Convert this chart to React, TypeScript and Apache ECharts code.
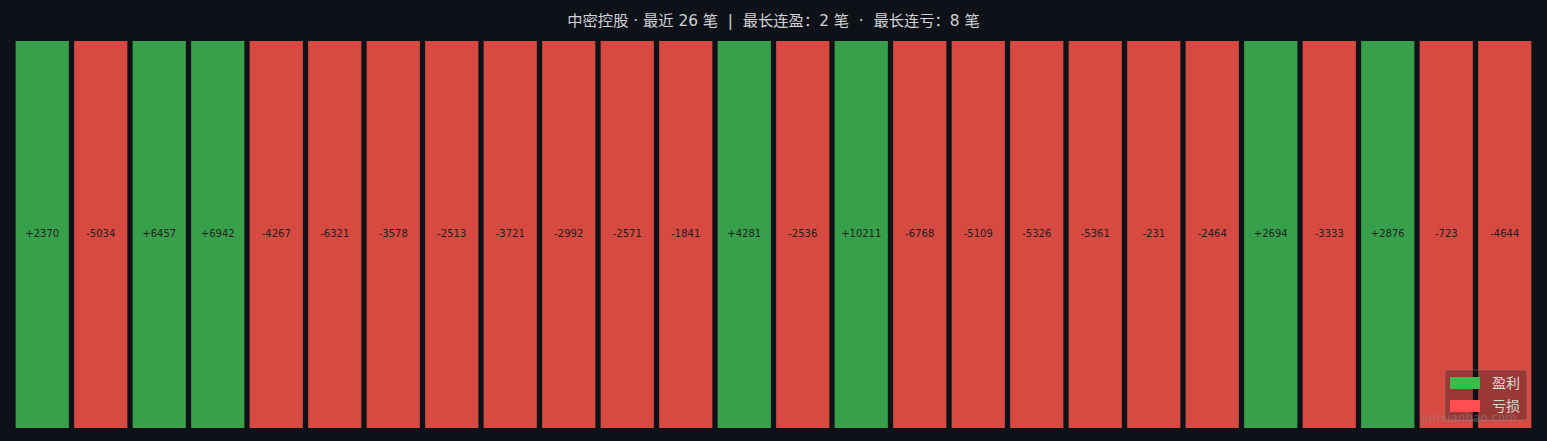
import { useEffect, useRef } from 'react'
import * as echarts from 'echarts'

const trades = [
  '1', '2', '3', '4', '5', '6', '7', '8', '9', '10', '11', '12', '13',
  '14', '15', '16', '17', '18', '19', '20', '21', '22', '23', '24', '25', '26',
]
const pnl = [
  2370, -5034, 6457, 6942, -4267, -6321, -3578, -2513, -3721, -2992, -2571, -1841, 4281,
  -2536, 10211, -6768, -5109, -5326, -5361, -231, -2464, 2694, -3333, 2876, -723, -4644,
]
const titleText =
  '中密控股 · 最近 26 笔\u00a0\u00a0|\u00a0\u00a0最长连盈：2 笔\u00a0\u00a0·\u00a0\u00a0最长连亏：8 笔'

const BG = '#0e1117'
const FONT = '"DejaVu Sans", "Noto Sans CJK SC", sans-serif'

export default function App() {
  const chartRef = useRef<HTMLDivElement>(null)

  useEffect(() => {
    document.body.style.margin = '0'
    document.body.style.background = BG
    if (!chartRef.current) return
    const chart = echarts.init(chartRef.current, null, { renderer: 'svg' })

    const label = {
      show: true,
      position: 'inside',
      offset: [0, -1],
      color: '#1e1e1e',
      fontSize: 10,
      fontFamily: FONT,
      formatter: (p: any) => {
        const v = pnl[p.dataIndex]
        return v > 0 ? `+${v}` : `${v}`
      },
    }

    chart.setOption({
      animation: false,
      backgroundColor: BG,
      textStyle: { fontFamily: FONT },
      title: {
        text: titleText,
        left: 'center',
        top: 8,
        textStyle: { color: '#d2d4d8', fontSize: 15.3, fontWeight: 'normal', fontFamily: FONT },
      },
      grid: { left: 13, right: 13, top: 41, bottom: 13 },
      xAxis: { type: 'category', data: trades, show: false },
      yAxis: { type: 'value', min: 0, max: 1, show: false },
      legend: {
        orient: 'vertical',
        right: 20,
        bottom: 21,
        padding: [6, 7, 7, 5],
        itemWidth: 30,
        itemHeight: 12,
        itemGap: 9,
        backgroundColor: 'rgba(14,17,23,0.3)',
        borderColor: 'rgba(150,150,150,0.35)',
        borderWidth: 1,
        borderRadius: 3,
        textStyle: { color: '#d8d8d8', fontSize: 14, padding: [0, 0, 0, 7], fontFamily: FONT },
        data: [
          { name: '盈利', icon: 'rect', itemStyle: { color: '#3dba4c' } },
          { name: '亏损', icon: 'rect', itemStyle: { color: '#ff4f4f' } },
        ],
      },
      graphic: [
        {
          type: 'text',
          right: 30,
          bottom: 17,
          z: 100,
          style: {
            text: 'junxianbao.com',
            fill: 'rgba(140,140,140,0.5)',
            fontSize: 12,
            fontFamily: FONT,
          },
        },
      ],
      series: [
        {
          name: '盈利',
          type: 'bar',
          stack: 'all',
          barCategoryGap: '9%',
          itemStyle: { color: '#38a04a' },
          label,
          data: pnl.map(v => (v > 0 ? 1 : '-')),
        },
        {
          name: '亏损',
          type: 'bar',
          stack: 'all',
          barCategoryGap: '9%',
          itemStyle: { color: '#d64a42' },
          label,
          data: pnl.map(v => (v <= 0 ? 1 : '-')),
        },
      ],
    })

    return () => {
      chart.dispose()
    }
  }, [])

  return <div ref={chartRef} style={{ width: 1547, height: 441 }} />
}
